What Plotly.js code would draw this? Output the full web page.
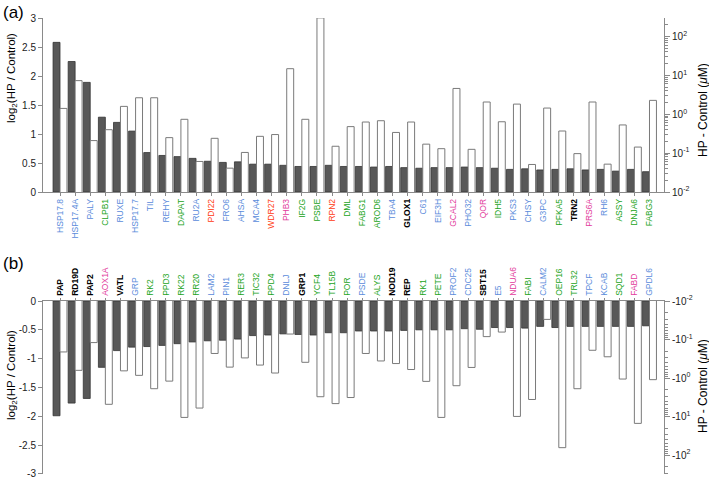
<!DOCTYPE html>
<html>
<head>
<meta charset="utf-8">
<script src="https://cdn.plot.ly/plotly-3.0.1.min.js"></script>
<style>
  html, body { margin: 0; padding: 0; background: #fff; }
  #chart { width: 709px; height: 480px; }
</style>
</head>
<body>
<div id="chart"></div>
<script>
// ===== Panel (a): proteins up in HP =====
const genesA = ["HSP17.8", "HSP17.4A", "PALY", "CLPB1", "RUXE", "HSP17.7", "TIL", "REHY", "DAPAT", "RU2A",
  "PDI22", "FRO6", "AHSA", "MCA4", "WDR27", "PHB3", "IF2G", "PSBE", "RPN2", "DML",
  "FABG1", "AROD6", "TBA4", "GLOX1", "C61", "EIF3H", "GCAL2", "PHO32", "QOR", "IDH5",
  "PKS3", "CHSY", "G3PC", "PFKA5", "TRN2", "PRS6A", "RH6", "ASSY", "DNJA6", "FABG3"];
// label class: b = blue, g = green, r = red, m = magenta, k = black (bold)
const classA = ["b", "b", "b", "g", "b", "b", "b", "b", "g", "b",
  "r", "b", "b", "b", "r", "m", "g", "g", "r", "g",
  "g", "g", "b", "k", "b", "b", "m", "b", "m", "g",
  "b", "b", "b", "g", "k", "m", "b", "g", "g", "g"];
const log2A = [2.58, 2.25, 1.89, 1.29, 1.20, 1.05, 0.68, 0.63, 0.61, 0.58,
  0.53, 0.51, 0.52, 0.48, 0.48, 0.46, 0.44, 0.44, 0.46, 0.44,
  0.44, 0.43, 0.44, 0.42, 0.41, 0.42, 0.42, 0.43, 0.42, 0.41,
  0.39, 0.40, 0.38, 0.39, 0.40, 0.38, 0.39, 0.36, 0.39, 0.35];
const concA = [1.41, 7.3, 0.21, 0.40, 1.59, 2.65, 2.65, 0.25, 0.74, 0.061,
  0.24, 0.041, 0.104, 0.27, 0.30, 14.8, 0.74, 300, 0.15, 0.48,
  0.63, 0.68, 0.34, 0.63, 0.17, 0.13, 4.6, 0.125, 2.06, 0.64,
  1.82, 0.051, 1.44, 0.37, 0.097, 2.06, 0.052, 0.53, 0.143, 2.27];

// ===== Panel (b): proteins down in HP =====
const genesB = ["PAP", "RD19D", "PAP2", "AOX1A", "VATL", "GRP", "RK2", "PPD3", "RK22", "RR20",
  "LAM2", "PIN1", "RER3", "TIC32", "PPD4", "DNLJ", "GRP1", "YCF4", "TL15B", "POR",
  "PSDE", "ALYS", "NOD19", "REP", "RK1", "PETE", "PROF2", "CDC25", "SBT15", "E5",
  "NDUA6", "FABI", "CALM2", "OEP16", "TRL32", "TPCF", "KCAB", "SQD1", "FABD", "GPDL6"];
const classB = ["k", "k", "k", "m", "k", "b", "g", "g", "g", "g",
  "b", "b", "g", "g", "g", "b", "k", "g", "g", "g",
  "b", "g", "k", "k", "g", "g", "b", "b", "k", "b",
  "m", "g", "b", "g", "g", "b", "b", "g", "m", "b"];
const log2B = [-1.99, -1.77, -1.69, -1.15, -0.86, -0.80, -0.79, -0.77, -0.74, -0.71,
  -0.69, -0.68, -0.66, -0.60, -0.59, -0.57, -0.58, -0.59, -0.55, -0.55,
  -0.52, -0.52, -0.52, -0.51, -0.50, -0.50, -0.50, -0.48, -0.49, -0.46,
  -0.46, -0.47, -0.44, -0.46, -0.44, -0.44, -0.44, -0.44, -0.44, -0.43];
// magnitude of HP - Control (the axis shows it as negative)
const concB = [0.21, 0.63, 0.12, 4.8, 0.65, 0.85, 1.89, 1.2, 10.5, 6.0,
  0.23, 0.52, 0.30, 0.46, 0.74, 0.072, 0.39, 3.05, 4.6, 3.2,
  0.23, 0.36, 0.42, 0.60, 1.22, 10.5, 1.58, 0.53, 0.084, 0.064,
  9.9, 3.6, 0.030, 64, 1.89, 0.19, 0.28, 1.06, 15, 1.1];

// ===== Axis ticks =====
const linTicksA = [0, 0.5, 1, 1.5, 2, 2.5, 3];
const linTicksB = [0, -0.5, -1, -1.5, -2, -2.5, -3];
const logTicks = [0.01, 0.1, 1, 10, 100];
const logExps = ["-2", "-1", "0", "1", "2"];

const classColor = { b: "#5b8cdb", g: "#22a422", r: "#ff3a10", m: "#e23c9c", k: "#000000" };
const FONT = "Liberation Sans, Arial, sans-serif";
const AXIS = "#8a8a8a";

function tickLabel(name, cls) {
  const t = cls === "k" ? `<b>${name}</b>` : name;
  return `<span style="color:${classColor[cls]}">${t}</span>`;
}

const idx = genesA.map((_, i) => i);
const minorLog = [];
for (let e = -2; e <= 2; e++) {
  for (let m = 2; m <= 9; m++) minorLog.push(m * Math.pow(10, e));
}

// plot area spans 43..664 px horizontally and the full height
const px = (p) => (p - 43) / 621;
const py = (p) => 1 - p / 480;

const darkBar = { color: "#585858", line: { color: "#333333", width: 0.8 } };
const whiteBar = { color: "#ffffff", line: { color: "#7a7a7a", width: 1 } };

const traces = [
  { type: "bar", x: idx, y: log2A, xaxis: "x", yaxis: "y", width: 0.46, offset: -0.46, marker: darkBar, hoverinfo: "y" },
  { type: "bar", x: idx, y: concA, xaxis: "x", yaxis: "y2", width: 0.46, offset: 0, marker: whiteBar, hoverinfo: "y" },
  { type: "bar", x: idx, y: log2B, xaxis: "x2", yaxis: "y3", width: 0.46, offset: -0.46, marker: darkBar, hoverinfo: "y" },
  { type: "bar", x: idx, y: concB, xaxis: "x2", yaxis: "y4", width: 0.46, offset: 0, marker: whiteBar, hoverinfo: "y" },
];

const baseX = {
  range: [-1.125, 39.96], tickmode: "array", tickvals: idx, tickangle: -90,
  tickfont: { size: 8.5, family: FONT }, showline: true, linecolor: AXIS, linewidth: 1,
  ticks: "outside", ticklen: 2.5, tickcolor: AXIS, showgrid: false, zeroline: false,
};
const baseY = {
  showline: true, linecolor: AXIS, linewidth: 1, ticks: "outside", ticklen: 4,
  tickcolor: AXIS, tickfont: { size: 10, family: FONT, color: "#222" },
  showgrid: false, zeroline: false, tickmode: "array",
};
const logY = {
  ...baseY, type: "log", side: "right", ticklen: 5,
  tickvals: logTicks,
  minor: { tickmode: "array", tickvals: minorLog, ticks: "outside", ticklen: 2.5, tickcolor: AXIS },
};

const titleA = "log<sub>2</sub>(HP / Control)";
const titleB = "HP - Control (<i>μ</i>M)";

const layout = {
  width: 709, height: 480,
  margin: { l: 43, r: 45, t: 0, b: 0 },
  paper_bgcolor: "#fff", plot_bgcolor: "rgba(0,0,0,0)",
  font: { family: FONT, color: "#000" },
  showlegend: false, barmode: "overlay",
  xaxis: { ...baseX, anchor: "y", domain: [0, 1], ticktext: genesA.map((g, i) => tickLabel(g, classA[i])) },
  yaxis: { ...baseY, anchor: "x", domain: [0.6, 0.9625], range: [0, 3], tickvals: linTicksA, ticktext: linTicksA.map(String) },
  yaxis2: { ...logY, anchor: "x", overlaying: "y", range: [-2, 2.474], ticktext: logExps.map((e) => `10<sup>${e}</sup>`) },
  xaxis2: { ...baseX, anchor: "y3", domain: [0, 1], side: "top", ticktext: genesB.map((g, i) => tickLabel(g, classB[i])) },
  yaxis3: { ...baseY, anchor: "x2", domain: [0.0125, 0.3729], range: [-3, 0], tickvals: linTicksB, ticktext: linTicksB.map(String) },
  yaxis4: { ...logY, anchor: "x2", overlaying: "y3", range: [2.49, -2], ticktext: logExps.map((e) => `-10<sup>${e}</sup>`) },
  annotations: [
    { text: "(a)", x: px(1), y: py(12), xanchor: "left", font: { size: 17 } },
    { text: "(b)", x: px(1), y: py(263), xanchor: "left", font: { size: 17 } },
    { text: titleA, x: px(12), y: py(78), textangle: -90, font: { size: 11.5 } },
    { text: titleA, x: px(12), y: py(375), textangle: -90, font: { size: 11.5 } },
    { text: titleB, x: px(703), y: py(110), textangle: -90, font: { size: 12 } },
    { text: titleB, x: px(703), y: py(386), textangle: -90, font: { size: 12 } },
  ].map((a) => ({ xref: "paper", yref: "paper", showarrow: false, xanchor: "center", yanchor: "middle", ...a })),
};

Plotly.newPlot("chart", traces, layout, { staticPlot: true, displayModeBar: false });
</script>
</body>
</html>
